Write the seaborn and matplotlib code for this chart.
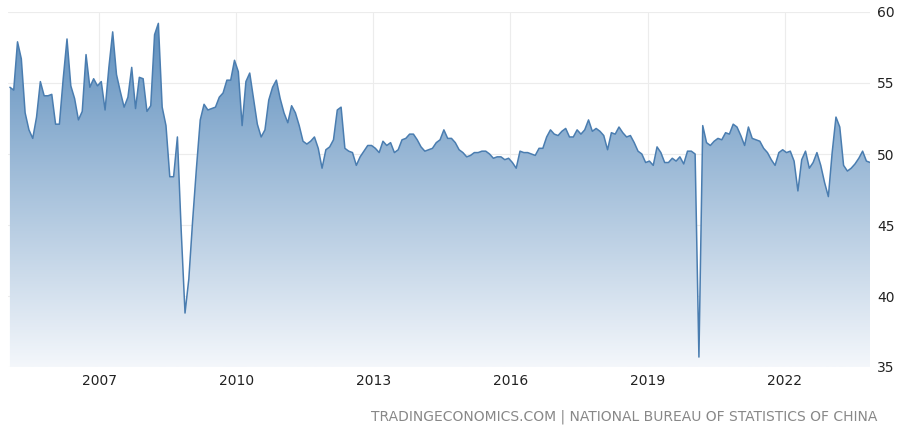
import numpy as np
import pandas as pd
import matplotlib
matplotlib.use("Agg")
import matplotlib.pyplot as plt
import seaborn as sns

# monthly manufacturing PMI, Jan 2005 .. Nov 2023
y2005 = [54.7, 54.5, 57.9, 56.7, 52.9, 51.7, 51.1, 52.6, 55.1, 54.1, 54.1, 54.2]
y2006 = [52.1, 52.1, 55.3, 58.1, 54.8, 53.9, 52.4, 53.0, 57.0, 54.7, 55.3, 54.8]
y2007 = [55.1, 53.1, 56.1, 58.6, 55.6, 54.4, 53.3, 54.0, 56.1, 53.2, 55.4, 55.3]
y2008 = [53.0, 53.4, 58.4, 59.2, 53.3, 52.0, 48.4, 48.4, 51.2, 44.6, 38.8, 41.2]
y2009 = [45.3, 49.0, 52.4, 53.5, 53.1, 53.2, 53.3, 54.0, 54.3, 55.2, 55.2, 56.6]
y2010 = [55.8, 52.0, 55.1, 55.7, 53.9, 52.1, 51.2, 51.7, 53.8, 54.7, 55.2, 53.9]
y2011 = [52.9, 52.2, 53.4, 52.9, 52.0, 50.9, 50.7, 50.9, 51.2, 50.4, 49.0, 50.3]
y2012 = [50.5, 51.0, 53.1, 53.3, 50.4, 50.2, 50.1, 49.2, 49.8, 50.2, 50.6, 50.6]
y2013 = [50.4, 50.1, 50.9, 50.6, 50.8, 50.1, 50.3, 51.0, 51.1, 51.4, 51.4, 51.0]
y2014 = [50.5, 50.2, 50.3, 50.4, 50.8, 51.0, 51.7, 51.1, 51.1, 50.8, 50.3, 50.1]
y2015 = [49.8, 49.9, 50.1, 50.1, 50.2, 50.2, 50.0, 49.7, 49.8, 49.8, 49.6, 49.7]
y2016 = [49.4, 49.0, 50.2, 50.1, 50.1, 50.0, 49.9, 50.4, 50.4, 51.2, 51.7, 51.4]
y2017 = [51.3, 51.6, 51.8, 51.2, 51.2, 51.7, 51.4, 51.7, 52.4, 51.6, 51.8, 51.6]
y2018 = [51.3, 50.3, 51.5, 51.4, 51.9, 51.5, 51.2, 51.3, 50.8, 50.2, 50.0, 49.4]
y2019 = [49.5, 49.2, 50.5, 50.1, 49.4, 49.4, 49.7, 49.5, 49.8, 49.3, 50.2, 50.2]
y2020 = [50.0, 35.7, 52.0, 50.8, 50.6, 50.9, 51.1, 51.0, 51.5, 51.4, 52.1, 51.9]
y2021 = [51.3, 50.6, 51.9, 51.1, 51.0, 50.9, 50.4, 50.1, 49.6, 49.2, 50.1, 50.3]
y2022 = [50.1, 50.2, 49.5, 47.4, 49.6, 50.2, 49.0, 49.4, 50.1, 49.2, 48.0, 47.0]
y2023 = [50.1, 52.6, 51.9, 49.2, 48.8, 49.0, 49.3, 49.7, 50.2, 49.5, 49.4]

values = (y2005 + y2006 + y2007 + y2008 + y2009 + y2010 + y2011 + y2012 + y2013
          + y2014 + y2015 + y2016 + y2017 + y2018 + y2019 + y2020 + y2021 + y2022 + y2023)
x_ticks = [2007, 2010, 2013, 2016, 2019, 2022]
y_ticks = [35, 40, 45, 50, 55, 60]
source = "TRADINGECONOMICS.COM | NATIONAL BUREAU OF STATISTICS OF CHINA"

df = pd.DataFrame({"t": 2005 + np.arange(len(values)) / 12 + 1 / 24, "v": values})

sns.set_style("white")
fig = plt.figure(figsize=(9, 4.29), dpi=100)
ax = fig.add_axes([8 / 900, 1 - 367 / 429, 862 / 900, 355 / 429])

# gradient fill under the line, clipped to the area polygon (dark on top)
grad = np.linspace(0, 1, 256).reshape(-1, 1)
cmap = matplotlib.colors.LinearSegmentedColormap.from_list("g", ["#f4f7fb", "#5a8cbc"])
img = ax.imshow(grad, cmap=cmap, aspect="auto", extent=[2005, 2023.87, 35, 60],
                origin="lower", zorder=1)
poly = ax.fill_between(df["t"], df["v"], 35, color="none")
img.set_clip_path(poly.get_paths()[0], transform=ax.transData)

sns.lineplot(data=df, x="t", y="v", ax=ax, color="#4a7db0", linewidth=1.1, zorder=3)

ax.set_xlim(2005, 2023.87)
ax.set_ylim(35, 60)
ax.set_xticks(x_ticks)
ax.set_xticklabels([str(t) for t in x_ticks])
ax.set_yticks(y_ticks)
ax.yaxis.tick_right()
ax.grid(True, color="#ececec", linewidth=0.8, zorder=0)
ax.set_axisbelow(True)
for s in ax.spines.values():
    s.set_visible(False)
ax.tick_params(axis="both", length=0, labelsize=10, colors="#222222", pad=5)
ax.set_xlabel("")
ax.set_ylabel("")

fig.text(877 / 900, 1 - 417 / 429, source, ha="right", va="center",
         fontsize=10, color="#888888")

fig.savefig("out.png", dpi=100)
